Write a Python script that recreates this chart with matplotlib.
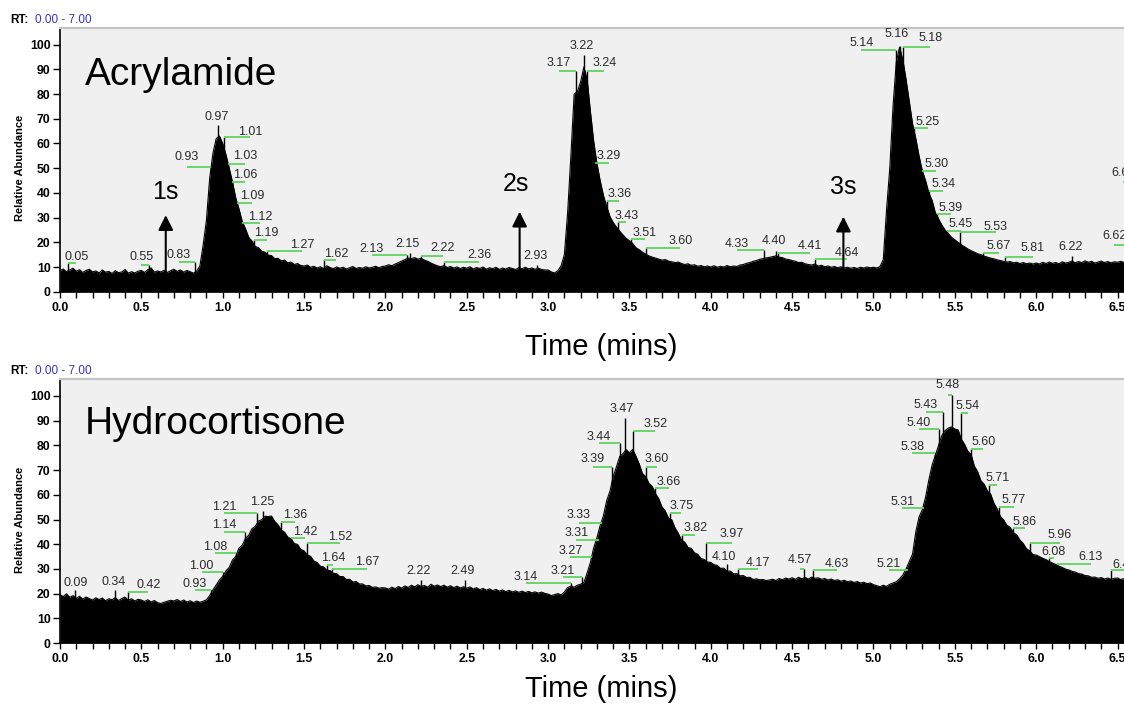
import numpy as np
import matplotlib
matplotlib.use("Agg")
import matplotlib.pyplot as plt

plt.rcParams['font.family'] = ['Liberation Sans', 'DejaVu Sans']

# ---------------- data ----------------
STEP = 0.02  # minutes between samples, starting at 0.00

acryl_rows = [
    [8.5, 9.2, 8.1, 8.8, 9.5, 8.3, 8.9, 7.8, 8.6, 9.1, 8.0, 8.4, 7.6, 8.8, 7.9, 8.2, 7.4, 8.5, 7.7, 8.0, 9.0, 7.5, 8.1, 7.6, 8.3],
    [8.6, 7.8, 8.9, 9.6, 7.9, 8.4, 8.0, 8.7, 7.8, 8.5, 9.1, 8.2, 8.8, 7.9, 8.6, 8.1, 7.5, 8.3, 10.5, 19, 29, 46, 56, 62, 63],
    [60, 55.5, 50, 44.5, 38, 33.5, 28.5, 25.5, 22, 20.5, 18.3, 17.8, 16.4, 16.0, 14.8, 14.6, 13.4, 13.5, 12.5, 12.8, 11.7, 12.0, 11.0, 11.4, 10.6],
    [10.4, 10.8, 9.9, 10.3, 9.6, 10.1, 9.4, 10.5, 9.8, 9.3, 10.0, 9.5, 9.9, 9.2, 9.7, 10.2, 9.4, 9.8, 9.5, 10.1, 9.6, 9.9, 10.3, 9.7, 10.2],
    [10.4, 10.9, 10.5, 11.2, 11.8, 12.4, 13.0, 13.6, 13.4, 13.8, 13.2, 13.5, 12.8, 12.3, 11.6, 11.0, 10.5, 10.1, 10.6, 9.8, 10.2, 9.6, 10.0, 9.4, 9.9],
    [9.5, 10.1, 9.2, 9.8, 9.4, 10.0, 9.1, 9.7, 9.3, 9.9, 9.0, 9.6, 9.2, 9.8, 9.4, 9.0, 9.7, 9.3, 9.9, 9.2, 9.6, 9.1, 9.5, 9.0, 8.8],
    [8.8, 8.0, 7.6, 8.5, 10.5, 15, 32, 55, 80, 81, 85, 91, 86, 73, 61, 52, 45, 39, 34.5, 30.5, 28, 26.2, 24.5, 23, 21.6],
    [20.6, 19.5, 17.8, 17.0, 16.0, 15.2, 14.5, 14.0, 13.6, 13.2, 12.8, 13.0, 12.4, 12.1, 11.8, 12.0, 11.4, 11.0, 11.3, 10.7, 10.9, 10.3, 10.6, 10.1, 10.4],
    [10.0, 10.5, 9.9, 10.3, 10.0, 10.6, 10.1, 10.4, 10.2, 10.8, 11.0, 11.5, 11.8, 12.3, 12.6, 13.1, 13.4, 13.7, 13.9, 14.2, 14.5, 14.0, 13.8, 13.2, 13.0],
    [12.6, 12.3, 11.8, 11.9, 11.3, 11.0, 10.8, 11.2, 10.4, 10.7, 10.1, 10.4, 9.9, 10.2, 9.7, 10.1, 9.6, 9.9, 9.5, 9.8, 9.4, 9.9, 9.6, 10.0, 9.7],
    [9.9, 9.6, 10.2, 13, 33, 50, 75, 93, 99, 94, 86, 77, 68, 62, 55, 49, 45, 40, 37, 32, 29.5, 27, 25, 23.5, 22],
    [21, 20, 19, 18.2, 17.3, 16.6, 16.0, 15.4, 15.0, 14.4, 14.0, 13.6, 13.3, 12.9, 12.6, 12.3, 12.0, 12.2, 11.7, 11.9, 11.4, 11.8, 11.3, 11.6, 11.2],
    [11.6, 11.2, 11.9, 11.4, 12.0, 11.5, 11.8, 11.3, 12.1, 11.6, 11.9, 12.4, 11.7, 12.2, 11.8, 12.5, 11.9, 12.3, 11.6, 12.0, 12.4, 11.8, 12.2, 11.7, 12.1],
    [11.9, 12.3, 11.8, 12.1, 11.7, 12.2],
]

hydro_rows = [
    [19.6, 18.8, 19.9, 18.5, 19.2, 18.1, 18.9, 17.8, 18.6, 18.0, 17.4, 18.3, 17.6, 18.2, 17.1, 17.9, 17.5, 18.4, 17.2, 18.0, 18.6, 17.3, 17.9, 17.0, 17.7],
    [17.4, 16.8, 17.5, 16.6, 17.2, 16.3, 16.0, 16.5, 16.9, 17.3, 17.0, 17.6, 16.8, 17.4, 16.6, 17.1, 16.4, 17.0, 16.5, 16.9, 17.5, 19.2, 21.5, 23.5, 25.5],
    [27.0, 29.2, 30.6, 33.6, 35.0, 38.4, 39.6, 42.4, 43.6, 46.3, 47.2, 49.4, 49.9, 51.3, 51.2, 51.4, 49.2, 47.9, 45.7, 44.9, 42.9, 42.2, 40.3, 39.9, 37.9],
    [37.3, 35.7, 35.1, 33.2, 32.6, 31.1, 30.8, 29.5, 29.3, 28.2, 28.1, 26.9, 26.9, 25.7, 25.8, 24.7, 24.9, 23.9, 23.9, 23.1, 23.3, 22.5, 22.7, 22.2, 22.4],
    [22.3, 21.8, 22.6, 22.0, 22.9, 22.2, 23.1, 22.5, 23.4, 22.7, 23.6, 22.9, 23.3, 22.6, 23.8, 23.0, 23.5, 22.8, 23.4, 22.6, 23.2, 22.4, 23.0, 22.3, 22.8],
    [22.2, 22.7, 21.9, 22.4, 21.6, 22.1, 21.4, 21.9, 21.2, 21.7, 21.0, 21.5, 20.8, 21.3, 20.7, 21.1, 20.5, 21.0, 20.4, 20.9, 20.3, 20.7, 20.2, 20.6, 20.1],
    [19.8, 19.2, 19.6, 20.0, 19.5, 20.6, 22.5, 23.0, 22.6, 23.4, 23.8, 24.5, 28.4, 32.6, 38.5, 42.6, 47.6, 51.5, 57.6, 61.4, 67.5, 71.3, 75.5, 76.6, 78.3],
    [77.0, 78.4, 75.6, 72.5, 68.6, 67.4, 64.6, 63.4, 60.5, 58.4, 55.1, 53.5, 50.6, 49.9, 46.6, 44.4, 41.7, 40.8, 38.7, 38.3, 36.5, 35.9, 34.2, 33.8, 32.8],
    [32.6, 31.7, 31.4, 30.2, 30.3, 29.1, 29.1, 28.0, 28.1, 27.2, 27.3, 26.5, 26.6, 25.7, 26.0, 25.6, 25.7, 25.3, 25.5, 25.8, 25.3, 26.1, 25.6, 26.3, 25.9],
    [26.4, 25.8, 26.6, 26.0, 26.5, 25.9, 26.7, 26.2, 26.4, 25.8, 26.1, 25.5, 25.9, 25.3, 25.6, 25.0, 25.4, 24.8, 25.1, 24.5, 24.9, 24.3, 24.6, 24.0, 24.3],
    [23.6, 23.2, 22.8, 23.4, 22.9, 23.8, 24.3, 24.8, 26, 27.5, 30, 33, 36, 45, 51, 54, 59, 66, 72, 76, 80, 84, 86, 87, 87.5],
    [86.6, 86.3, 82.5, 80.4, 77.6, 76.3, 71.6, 69.4, 65.7, 64.3, 61.6, 60.3, 56.6, 54.3, 51.2, 49.8, 47.7, 46.8, 44.7, 43.8, 41.7, 40.3, 38.2, 37.3, 35.8],
    [35.6, 35.0, 34.3, 33.8, 33.0, 32.4, 31.8, 31.1, 30.6, 29.9, 29.6, 29.0, 28.7, 28.1, 27.9, 27.3, 27.2, 26.6, 26.7, 26.2, 26.5, 25.9, 26.3, 25.8, 26.2],
    [26.3, 25.7, 26.1, 25.8, 26.2, 25.9],
]

# peak labels: (retention time, apex height, label x, label y)
acryl_labels = [
    (0.05, 11.5, 0.10, 14.2), (0.55, 11.0, 0.50, 14.2), (0.83, 12.0, 0.73, 14.9),
    (0.93, 50.6, 0.78, 54.7), (0.97, 67.5, 0.96, 70.9), (1.01, 62.8, 1.168, 64.8),
    (1.03, 51.7, 1.138, 54.9), (1.06, 44.5, 1.138, 47.2), (1.09, 36.0, 1.18, 38.7),
    (1.12, 27.7, 1.23, 30.4), (1.19, 20.9, 1.27, 23.6), (1.27, 16.5, 1.486, 18.9),
    (1.62, 12.8, 1.697, 15.3), (2.13, 14.9, 1.915, 17.4), (2.15, 15.8, 2.136, 19.3),
    (2.22, 14.6, 2.354, 17.6), (2.36, 12.1, 2.577, 14.9), (2.93, 11.0, 2.92, 14.5),
    (3.17, 89.5, 3.065, 92.5), (3.22, 95.8, 3.208, 99.5), (3.24, 89.5, 3.346, 92.5),
    (3.29, 52.0, 3.375, 55.0), (3.36, 36.9, 3.438, 39.6), (3.43, 28.1, 3.481, 30.6),
    (3.51, 21.3, 3.594, 23.9), (3.60, 17.8, 3.813, 20.5), (4.33, 17.0, 4.162, 19.3),
    (4.40, 16.5, 4.387, 20.5), (4.41, 15.8, 4.608, 18.5), (4.64, 13.2, 4.838, 15.8),
    (5.14, 97.8, 4.926, 100.6), (5.16, 99.5, 5.145, 104.2), (5.18, 99.0, 5.35, 102.6),
    (5.25, 66.1, 5.334, 68.8), (5.30, 49.0, 5.385, 51.6), (5.34, 40.8, 5.43, 43.6),
    (5.39, 31.5, 5.474, 34.0), (5.45, 24.6, 5.535, 27.4), (5.53, 24.2, 5.75, 26.3),
    (5.67, 15.5, 5.77, 18.5), (5.81, 14.0, 5.98, 17.6), (6.22, 14.5, 6.21, 18.0),
    (6.62, 19.0, 6.48, 22.5), (6.68, 44.5, 6.535, 47.9),
]

hydro_labels = [
    (0.09, 21.5, 0.098, 24.4), (0.34, 21.5, 0.328, 24.8), (0.42, 20.8, 0.543, 23.5),
    (0.93, 21.5, 0.83, 23.9), (1.00, 28.6, 0.871, 31.2), (1.08, 36.3, 0.953, 39.0),
    (1.14, 45.0, 1.009, 47.8), (1.21, 52.8, 1.009, 55.2), (1.25, 53.5, 1.24, 57.2),
    (1.36, 49.1, 1.445, 51.8), (1.42, 42.4, 1.507, 45.0), (1.52, 40.5, 1.722, 42.8),
    (1.64, 31.5, 1.681, 34.3), (1.67, 29.8, 1.886, 32.9), (2.22, 25.5, 2.205, 29.3),
    (2.49, 25.5, 2.474, 29.3), (3.14, 24.4, 2.863, 26.8), (3.21, 26.6, 3.09, 29.1),
    (3.27, 34.7, 3.137, 37.2), (3.31, 41.7, 3.173, 44.4), (3.33, 48.7, 3.188, 51.8),
    (3.39, 71.4, 3.276, 74.4), (3.44, 80.8, 3.31, 83.3), (3.47, 91.0, 3.454, 94.6),
    (3.52, 85.8, 3.659, 88.7), (3.60, 71.4, 3.67, 74.4), (3.66, 62.6, 3.741, 65.2),
    (3.75, 52.5, 3.819, 55.5), (3.82, 43.7, 3.905, 46.7), (3.97, 40.6, 4.13, 44.0),
    (4.10, 32.0, 4.08, 34.9), (4.17, 29.8, 4.29, 32.5), (4.57, 30.0, 4.547, 33.8),
    (4.63, 29.5, 4.774, 31.9), (5.21, 29.5, 5.095, 31.9), (5.31, 54.5, 5.176, 57.2),
    (5.38, 76.8, 5.238, 79.2), (5.40, 86.5, 5.279, 89.2), (5.43, 93.6, 5.32, 96.4),
    (5.48, 100.4, 5.457, 104.4), (5.54, 93.0, 5.58, 95.9), (5.60, 78.4, 5.674, 81.5),
    (5.71, 63.8, 5.76, 66.7), (5.77, 55.0, 5.863, 57.9), (5.86, 46.4, 5.929, 49.1),
    (5.96, 40.6, 6.146, 43.7), (6.08, 34.4, 6.109, 37.0), (6.13, 32.0, 6.336, 35.0),
    (6.46, 29.5, 6.546, 31.5),
]

# injection arrows (top panel): time, arrow tip height, text, text x, text y
arrow_t = [0.65, 2.825, 4.815]
arrow_tip = [31.0, 32.4, 30.4]
arrow_text = ["1s", "2s", "3s"]
arrow_text_x = [0.646, 2.80, 4.813]
arrow_text_y = [40.5, 43.5, 42.5]

panel_names = ["Acrylamide", "Hydrocortisone"]

# ---------------- figure ----------------
W, H = 1124, 704
fig = plt.figure(figsize=(W / 100, H / 100), dpi=100)
fig.patch.set_facecolor('white')

PX_PER_MIN = 162.7
LEFT = 60.0
GREEN = '#5ed35e'
GRAY_BG = '#f0f0f0'


def make_axes(top_px, bottom_px):
    right_px = LEFT + 7.0 * PX_PER_MIN
    ax = fig.add_axes([LEFT / W, 1 - bottom_px / H, (right_px - LEFT) / W,
                       (bottom_px - top_px) / H])
    ax.set_facecolor(GRAY_BG)
    ax.set_xlim(0, 7.0)
    ax.set_ylim(0, (bottom_px - top_px) / 2.47)
    ax.set_xticks(np.arange(0, 7.01, 0.5))
    ax.set_xticklabels([f"{v:.1f}" for v in np.arange(0, 7.01, 0.5)])
    ax.set_xticks(np.arange(0, 7.01, 0.1), minor=True)
    ax.set_yticks(np.arange(0, 101, 10))
    ax.tick_params(axis='x', which='both', direction='out', length=4.2, width=1.0,
                   pad=3.0, labelsize=8.8, colors='black')
    ax.tick_params(axis='y', which='major', direction='out', length=4.8, width=1.0,
                   pad=2.0, labelsize=8.8, colors='black')
    for lab in ax.get_xticklabels() + ax.get_yticklabels():
        lab.set_fontweight('bold')
    ax.spines['left'].set_linewidth(1.2)
    ax.spines['bottom'].set_linewidth(1.2)
    ax.spines['top'].set_color('#c4c4c4')
    ax.spines['top'].set_linewidth(1.6)
    ax.spines['right'].set_color('#c4c4c4')
    return ax


def draw_panel(ax, rows, labels, name, name_y):
    vals = np.array([v for row in rows for v in row], dtype=float)
    times = np.round(np.arange(len(vals)) * STEP, 2)
    ax.fill_between(times, 0, vals, color='black', lw=0, zorder=2)
    ax.plot(times, vals, color='black', lw=0.8, zorder=2)
    for rt, apex, tx, ty in labels:
        ax.vlines(rt, 0, apex, colors='black', lw=1.0, zorder=3)
        if abs(tx - rt) > 0.02:
            ax.plot([min(rt, tx), max(rt, tx)], [apex, apex], color=GREEN,
                    lw=1.3, zorder=4, solid_capstyle='butt')
        ax.text(tx, ty, f"{rt:.2f}", ha='center', va='center', fontsize=9,
                color='#2b2b2b', zorder=5)
    ax.text(0.154, name_y, name, fontsize=28, ha='left', va='baseline',
            color='black', zorder=5)


ax1 = make_axes(28, 291.7)
ax2 = make_axes(379, 643)

draw_panel(ax1, acryl_rows, acryl_labels, panel_names[0], 83.7)
draw_panel(ax2, hydro_rows, hydro_labels, panel_names[1], 84.6)

for t, tip, s, sx, sy in zip(arrow_t, arrow_tip, arrow_text, arrow_text_x, arrow_text_y):
    ax1.annotate('', xy=(t, tip), xytext=(t, 0),
                 arrowprops=dict(arrowstyle='-|>,head_width=0.45,head_length=0.9',
                                 lw=1.5, color='black', shrinkA=0, shrinkB=0),
                 zorder=6)
    ax1.text(sx, sy, s, fontsize=18, ha='center', va='center', color='black', zorder=6)

# headers, axis titles
for y_px in (20, 371):
    fig.text(10 / W, 1 - y_px / H, "RT:", fontsize=8.5, fontweight='bold',
             ha='left', va='center', color='black')
    fig.text(35 / W, 1 - y_px / H, "0.00 - 7.00", fontsize=8.5,
             ha='left', va='center', color='#3535c8')

for y_px in (168, 519.5):
    fig.text(20 / W, 1 - y_px / H, "Relative Abundance", rotation=90, fontsize=8,
             fontweight='bold', ha='center', va='center', color='black')

for y_px in (347, 689):
    fig.text(601 / W, 1 - y_px / H, "Time (mins)", fontsize=21,
             ha='center', va='center', color='black')

fig.savefig("out.png", dpi=100)
